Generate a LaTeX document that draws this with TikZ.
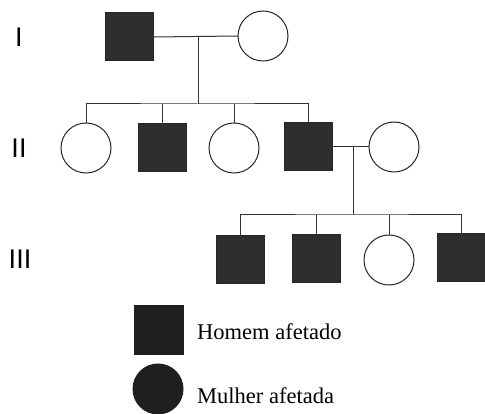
\documentclass[tikz,border=0pt]{standalone}
\usepackage{fontspec}
\setmainfont{Liberation Serif}
\newfontfamily\numfont{Liberation Sans}
\definecolor{aff}{HTML}{2E2E2E}
\begin{document}
\begin{tikzpicture}[x=1pt,y=-1pt,
  male/.style={draw=black!85,line width=1pt,fill=aff,minimum size=48pt,inner sep=0pt,outer sep=0pt},
  female/.style={circle,draw=black!85,line width=1pt,fill=white,minimum size=50pt,inner sep=0pt,outer sep=0pt},
  femaff/.style={circle,draw=aff,line width=1pt,fill=aff,minimum size=50pt,inner sep=0pt,outer sep=0pt},
  link/.style={draw=black!80,line width=1pt},
  gen/.style={font=\numfont\fontsize{27}{27}\selectfont,inner sep=0pt},
  legend/.style={font=\fontsize{22.5}{22.5}\selectfont,inner sep=0pt,anchor=base west}]
\useasboundingbox (0,0) rectangle (485,414);
% generation labels
\node[gen] (g1) at (19,37) {I};
\node[gen] (g2) at (19,148) {II};
\node[gen] (g3) at (20,259) {III};
% generation I
\node[male] (i1) at (129,37) {};
\node[female] (i2) at (263,36) {};
\coordinate (m1) at (198,36);
\coordinate (s1) at (198,104);
\draw[link] (i1.east) -- (i2.west);
\draw[link] (m1) -- (s1);
% generation II
\node[female] (ii1) at (86,148) {};
\node[male] (ii2) at (162,148) {};
\node[female] (ii3) at (234,148) {};
\node[male] (ii4) at (308,147) {};
\node[female] (ii5) at (394,147) {};
\draw[link] (ii1.north) |- (s1) -| (ii4.north);
\draw[link] (ii2.north) -- (ii2.north |- s1);
\draw[link] (ii3.north) -- (ii3.north |- s1);
\draw[link] (ii4.east) -- (ii5.west);
\coordinate (m2) at (353,147);
\coordinate (s2) at (353,215);
\draw[link] (m2) -- (s2);
% generation III
\node[male] (iii1) at (240,260) {};
\node[male] (iii2) at (316,259) {};
\node[female] (iii3) at (389,260) {};
\node[male] (iii4) at (461,258) {};
\draw[link] (iii1.north) |- (s2) -| (iii4.north);
\draw[link] (iii2.north) -- (iii2.north |- s2);
\draw[link] (iii3.north) -- (iii3.north |- s2);
% legend
\node[male,fill=black!88,draw=black!88,minimum size=49pt] (lm) at (159,330) {};
\node[femaff,fill=black!88,draw=black!88] (lf) at (158,389) {};
\node[legend] (tm) at (197,339) {Homem afetado};
\node[legend] (tf) at (197,403) {Mulher afetada};
\end{tikzpicture}
\end{document}
